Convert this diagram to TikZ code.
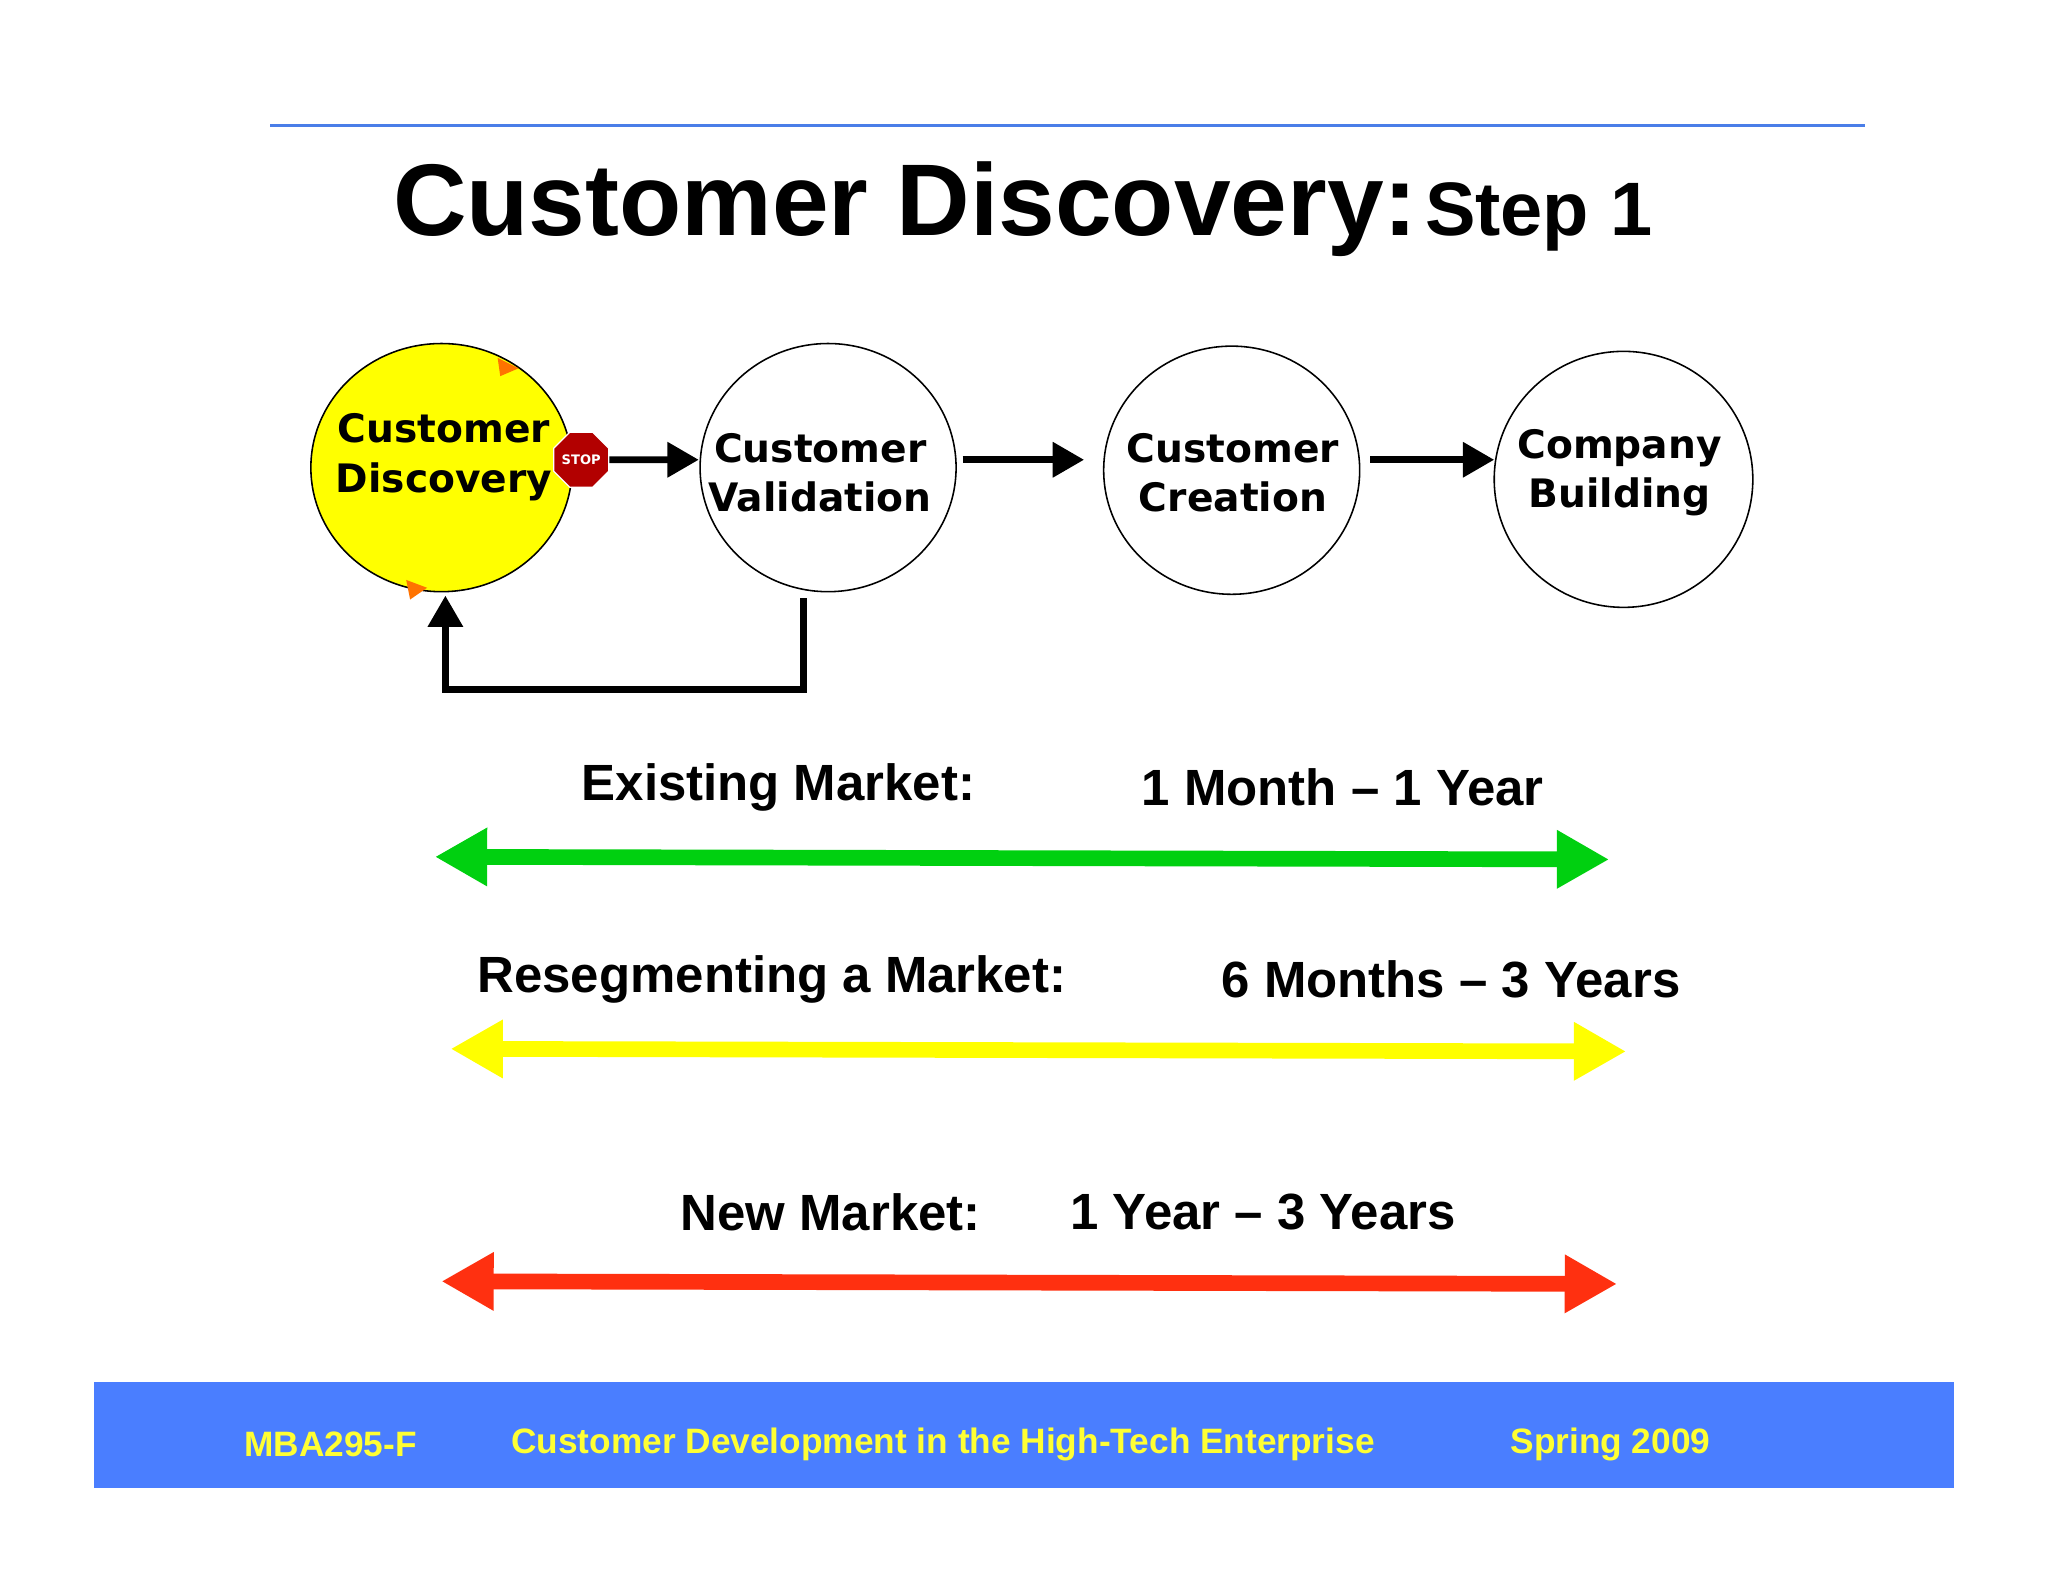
\documentclass[tikz,border=0pt]{standalone}
\usepackage{fontspec}
\setmainfont{Liberation Sans}
\newfontfamily\verd{DejaVu Sans}
\usetikzlibrary{arrows.meta,shapes.geometric}
\definecolor{footblue}{HTML}{4A7EFF}
\definecolor{lineblue}{HTML}{4A7EE8}
\definecolor{mgreen}{HTML}{00D010}
\definecolor{myellow}{HTML}{FFFF00}
\definecolor{mred}{HTML}{FF3010}
\definecolor{fyellow}{HTML}{FFFF33}
\tikzset{
 stagetxt/.style={align=center,inner sep=0pt,font=\verd\bfseries\fontsize{15}{19}\selectfont},
 ring/.style={draw=black,line width=0.6pt},
 flow/.style={line width=2.6pt,-{Triangle[length=12pt,width=13pt]}},
 span/.style={line width=6pt,{Triangle[length=20pt,width=21pt]}-{Triangle[length=20pt,width=21pt]}},
 lbl/.style={font=\bfseries\fontsize{19.5}{22}\selectfont},
 foot/.style={font=\bfseries\fontsize{13.5}{16}\selectfont,text=fyellow}
}
\begin{document}
\begin{tikzpicture}[x=0.5pt,y=-0.5pt]
\useasboundingbox[fill=white] (0,0) rectangle (1568,1211);
\draw[lineblue,line width=1.2pt] (207,96) -- (1428,96);
\node[font=\bfseries] (title) at (783,160) {{\fontsize{39}{44}\selectfont Customer Discovery:}\ {\fontsize{29}{34}\selectfont Step 1}};
\filldraw[ring,fill=myellow] (338,358) ellipse [x radius=100,y radius=95];
\draw[ring] (634,358) ellipse [x radius=98,y radius=95];
\draw[ring] (943,360) ellipse [x radius=98,y radius=95];
\draw[ring] (1243,367) ellipse [x radius=99,y radius=98];
\node[stagetxt] (cd) at (340,350) {Customer\\Discovery};
\node[stagetxt] (cv) at (628,362) {Customer\\Validation};
\node[stagetxt] (cc) at (944,362) {Customer\\Creation};
\node[stagetxt] (cb) at (1240,362) {Company\\Building};
\node[regular polygon,regular polygon sides=8,fill=red!70!black,draw=white,line width=0.5pt,minimum size=18pt,inner sep=0pt,text=white,font=\verd\bfseries\fontsize{5}{6}\selectfont] (stop) at (445,352) {STOP};
\fill[orange!90!red] (381,274) -- (397,282) -- (383,288) -- cycle;
\fill[orange!90!red] (311,444) -- (327,450) -- (314,459) -- cycle;
\coordinate (cvw) at (535,352);
\coordinate (cve) at (737,352);
\coordinate (ccw) at (830,352);
\coordinate (cce) at (1049,352);
\coordinate (cbw) at (1144,352);
\draw[flow] (stop.east) -- (cvw);
\draw[flow] (cve) -- (ccw);
\draw[flow] (cce) -- (cbw);
\coordinate (fb1) at (615,458);
\coordinate (fb2) at (341,456);
\draw[line width=2.6pt,-{Triangle[length=12pt,width=13pt]}] (fb1) -- (615,528) -- (341,528) -- (fb2);
\node[lbl] (em) at (596,603) {Existing Market:};
\node[lbl] (emt) at (1028,603) {1 Month – 1 Year};
\coordinate (g1) at (333,656); \coordinate (g2) at (1232,658);
\draw[span,mgreen] (g1) -- (g2);
\node[lbl] (rm) at (591,750) {Resegmenting a Market:};
\node[lbl] (rmt) at (1111,750) {6 Months – 3 Years};
\coordinate (y1) at (345,803); \coordinate (y2) at (1245,805);
\draw[span,myellow] (y1) -- (y2);
\node[lbl] (nm) at (636,928) {New Market:};
\node[lbl] (nmt) at (967,928) {1 Year – 3 Years};
\coordinate (r1) at (338,981); \coordinate (r2) at (1238,983);
\draw[span,mred] (r1) -- (r2);
\fill[footblue] (72,1058) rectangle (1496,1139);
\node[foot] (f1) at (253,1106) {MBA295-F};
\node[foot] (f2) at (722,1106) {Customer Development in the High-Tech Enterprise};
\node[foot] (f3) at (1233,1106) {Spring 2009};
\end{tikzpicture}
\end{document}
